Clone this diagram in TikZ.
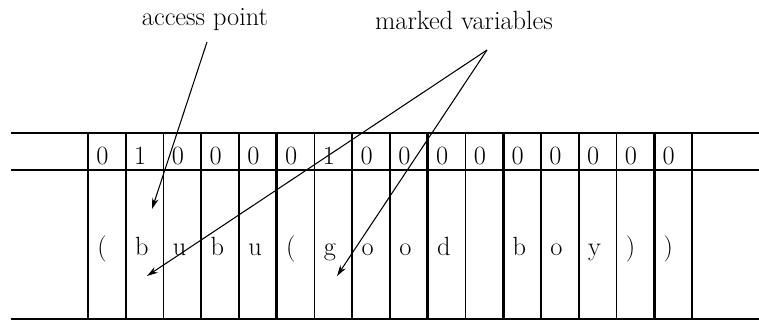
\documentclass[tikz,border=0pt]{standalone}
\usepackage{tikz}
\usetikzlibrary{arrows.meta, calc, positioning}

\begin{document}
\begin{tikzpicture}[x=0.02cm,y=-0.02cm,>={Stealth[length=2.2mm,width=1.3mm]},
   txt/.style={font=\fontsize{15}{18}\selectfont},
   bit/.style={txt,anchor=base west,inner sep=0pt},
   sym/.style={txt,anchor=base west,inner sep=0pt},
   rule/.style={line width=1.2pt},
   wall/.style={line width=1.0pt},
   fat/.style={line width=1.6pt},
   ptr/.style={->,line width=0.6pt}]
  \useasboundingbox (0,0) rectangle (759,321);
  % labels
  \node[txt] (ap) at (205,20) {access point};
  \node[txt] (mv) at (464,20) {marked variables};
  % tape rules
  \draw[rule] (11,133) -- (759,133);
  \draw[rule] (11,170) -- (759,170);
  \draw[wall] (11,319) -- (759,319);
  % cell walls
  \foreach \i in {0,...,16} \draw[wall] ({88+37.75*\i},133) -- ({88+37.75*\i},319);
  \foreach \i in {0,5,9,11,15} \draw[fat] ({88+37.75*\i},133) -- ({88+37.75*\i},319);
  % mark bits
  \foreach \b [count=\i from 0] in {0,1,0,0,0,0,1,0,0,0,0,0,0,0,0,0}
    \node[bit] (m\i) at ({96+37.75*\i},164) {\b};
  % symbols
  \foreach \s [count=\i from 0] in {{(},b,u,b,u,{(},g,o,o,d,{},b,o,y,{)},{)}}
    \node[sym] (s\i) at ({97+37.75*\i},255) {\s};
  % pointers
  \coordinate (apfoot) at (207,42);
  \coordinate (mvfoot) at (487,50);
  \coordinate (acc) at (152,209);
  \coordinate (var1) at (147,276);
  \coordinate (var2) at (337,276);
  \draw[ptr] (apfoot) -- (acc);
  \draw[ptr] (mvfoot) -- (var1);
  \draw[ptr] (mvfoot) -- (var2);
\end{tikzpicture}
\end{document}
